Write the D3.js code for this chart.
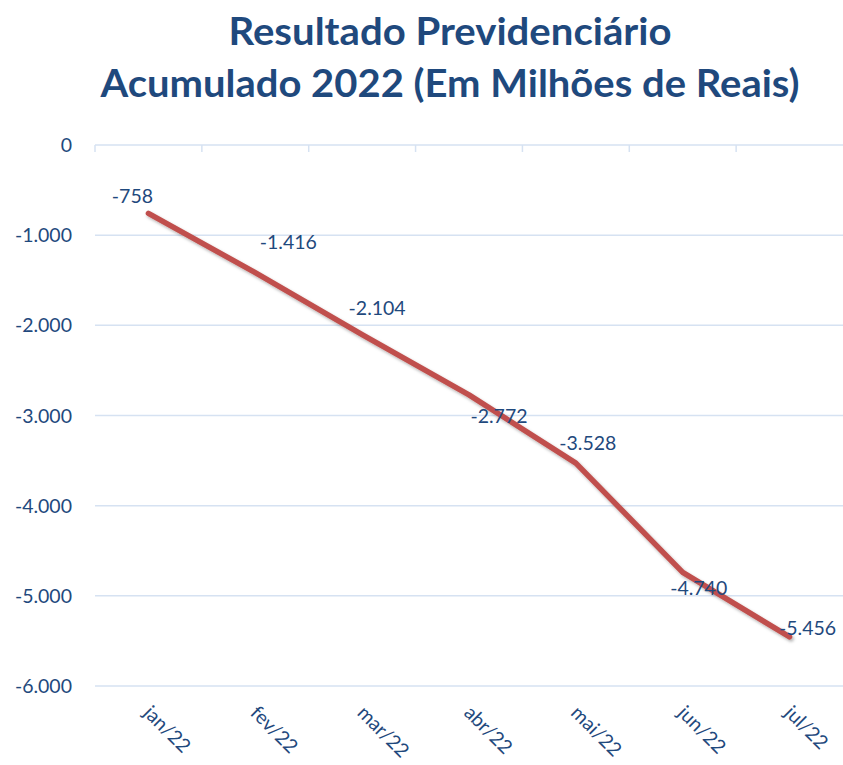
<!DOCTYPE html>
<html>
<head>
<meta charset="utf-8">
<script src="https://cdn.jsdelivr.net/npm/d3@7"></script>
<style>
  body { margin: 0; background: #fff; }
  svg { display: block; }
  text { font-family: "Lato", "Open Sans", sans-serif; }
</style>
</head>
<body>
<svg width="843" height="765"></svg>
<script>
const months = ["jan/22", "fev/22", "mar/22", "abr/22", "mai/22", "jun/22", "jul/22"];
const resultado = [-758, -1416, -2104, -2772, -3528, -4740, -5456];
const yTicks = [0, -1000, -2000, -3000, -4000, -5000, -6000];
const titleLines = ["Resultado Previdenciário", "Acumulado 2022 (Em Milhões de Reais)"];

// label offsets (px) from each point, like the excel data labels
const labelOffsets = [[-16, -17], [33, -31], [15, -27], [30, 21], [12, -20], [16, 16], [18, -9]];

const plotLeft = 95, plotRight = 843, plotTop = 145, plotBottom = 686;
const textColor = "#1F497D";
const gridColor = "#D6E2F2";

const svg = d3.select("svg");

// thousands with dots, plain hyphen for minus
const fmt = v => d3.format(",")(v).replace(/,/g, ".").replace("\u2212", "-");

const x = d3.scaleBand().domain(months).range([plotLeft, plotRight]);
const y = d3.scaleLinear().domain([-6000, 0]).range([plotBottom, plotTop]);

// shadow for the line
const defs = svg.append("defs");
const f = defs.append("filter").attr("id", "shadow")
    .attr("x", "-10%").attr("y", "-10%").attr("width", "120%").attr("height", "120%");
f.append("feDropShadow").attr("dx", 1.5).attr("dy", 2).attr("stdDeviation", 1.5)
    .attr("flood-color", "#000").attr("flood-opacity", 0.3);

// title
svg.selectAll(".title")
    .data(titleLines)
    .join("text")
    .attr("class", "title")
    .attr("x", 450)
    .attr("y", (d, i) => 45 + i * 52)
    .attr("text-anchor", "middle")
    .attr("font-size", 38)
    .attr("font-weight", "bold")
    .attr("fill", textColor)
    .attr("textLength", (d, i) => i == 0 ? 443 : 699)
    .attr("lengthAdjust", "spacingAndGlyphs")
    .text(d => d);

// gridlines
svg.append("g")
    .selectAll("line")
    .data(yTicks)
    .join("line")
    .attr("x1", plotLeft).attr("x2", plotRight)
    .attr("y1", d => y(d)).attr("y2", d => y(d))
    .attr("stroke", gridColor).attr("stroke-width", 1.5);

// category tick marks on the zero line
svg.append("g")
    .selectAll("line")
    .data(months)
    .join("line")
    .attr("x1", d => x(d)).attr("x2", d => x(d))
    .attr("y1", y(0)).attr("y2", y(0) + 7)
    .attr("stroke", gridColor).attr("stroke-width", 1.5);

// y axis labels
svg.append("g")
    .selectAll("text")
    .data(yTicks)
    .join("text")
    .attr("x", 72)
    .attr("y", d => y(d) + 7)
    .attr("text-anchor", "end")
    .attr("font-size", 19.5)
    .attr("fill", textColor)
    .text(d => fmt(d));

// x axis labels, rotated
svg.append("g")
    .selectAll("text")
    .data(months)
    .join("text")
    .attr("transform", d => `translate(${x(d) + x.bandwidth() / 2 - 6}, 714) rotate(45)`)
    .attr("font-size", 19.5)
    .attr("fill", textColor)
    .text(d => d);

// line
const line = d3.line()
    .x((d, i) => x(months[i]) + x.bandwidth() / 2)
    .y(d => y(d));

svg.append("path")
    .datum(resultado)
    .attr("d", line)
    .attr("fill", "none")
    .attr("stroke", "#C0504D")
    .attr("stroke-width", 5.5)
    .attr("stroke-linejoin", "round")
    .attr("stroke-linecap", "round")
    .attr("filter", "url(#shadow)");

// data labels
svg.append("g")
    .selectAll("text")
    .data(resultado)
    .join("text")
    .attr("x", (d, i) => x(months[i]) + x.bandwidth() / 2 + labelOffsets[i][0])
    .attr("y", (d, i) => y(d) + labelOffsets[i][1] + 7)
    .attr("text-anchor", "middle")
    .attr("font-size", 19.5)
    .attr("fill", textColor)
    .text(d => fmt(d));
</script>
</body>
</html>
